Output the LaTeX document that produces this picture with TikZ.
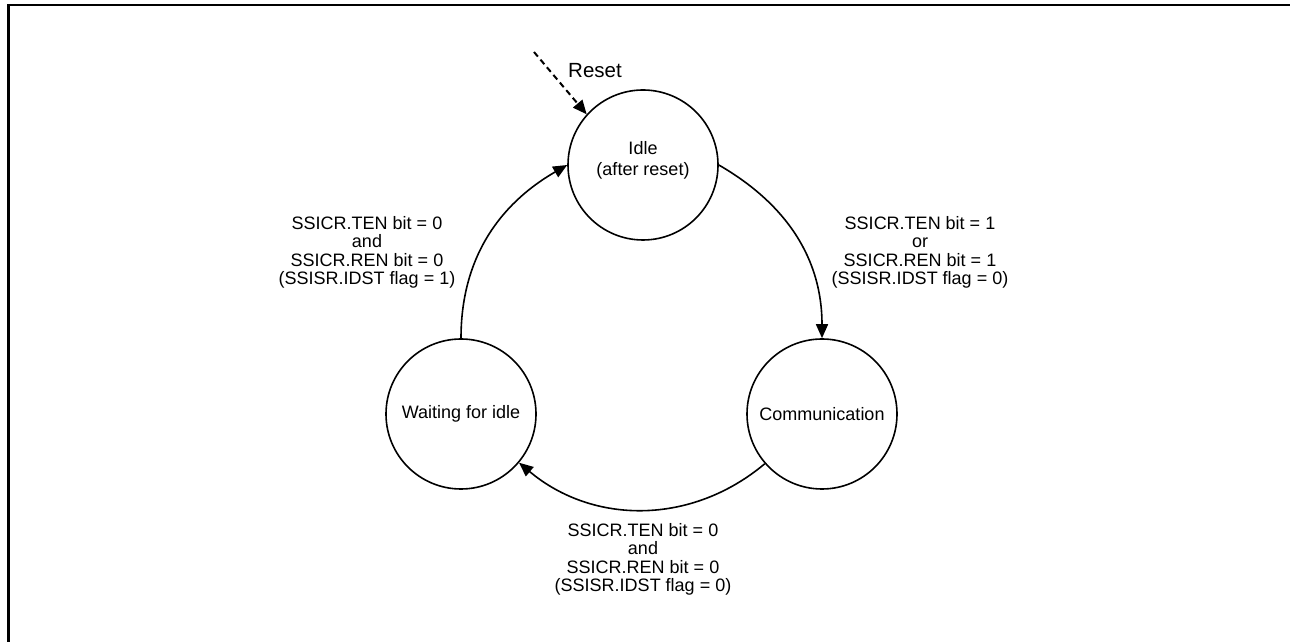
\documentclass[tikz,border=0pt]{standalone}
\usepackage{fontspec}
\setmainfont{Liberation Sans}
\usetikzlibrary{arrows.meta,positioning}

\begin{document}
\begin{tikzpicture}[
        x=1pt, y=1pt,
        state/.style={draw, line width=1.6pt, circle, minimum size=150pt, inner sep=0pt, align=center, font=\fontsize{18}{21}\selectfont},
        cond/.style={align=center, inner sep=0pt, font=\fontsize{18}{18.5}\selectfont},
        arrow/.style={line width=1.6pt, -{Triangle[length=14pt,width=12pt]}},
        resetarrow/.style={arrow, line width=2pt, dash pattern=on 6pt off 4pt}
    ]
        \useasboundingbox (0,0) rectangle (1290,642);

        % Frame
        \draw[line width=2.6pt] (8.5,0) -- (8.5,637) -- (1290,637);

        % States
        \node[state, text depth=14pt] (idle) at (643, 477) {Idle\\(after reset)};
        \node[state] (comm) at (822, 228) {Communication};
        \node[state] (waiting) at (461, 228) {Waiting for idle};

        % Reset
        \coordinate (reset) at (534, 590);
        \node[cond, anchor=west, font=\fontsize{20.5}{22}\selectfont] (resetlbl) at (568, 571) {Reset};
        \draw[resetarrow] (reset) -- (idle.138);

        % Transitions
        \draw[arrow] (idle.east) to[out=-30, in=90] (comm.north);
        \draw[arrow] (comm.221) to[out=220, in=-40] (waiting.-40);
        \draw[arrow] (waiting.north) to[out=90, in=210] (idle.west);

        % Conditions
        \node[cond] (tostart) at (920, 389.5) {SSICR.TEN bit = 1\\or\\SSICR.REN bit = 1\\(SSISR.IDST flag = 0)};
        \node[cond] (tostop) at (643, 82.5) {SSICR.TEN bit = 0\\and\\SSICR.REN bit = 0\\(SSISR.IDST flag = 0)};
        \node[cond] (toidle) at (367, 389.5) {SSICR.TEN bit = 0\\and\\SSICR.REN bit = 0\\(SSISR.IDST flag = 1)};
    \end{tikzpicture}
\end{document}
